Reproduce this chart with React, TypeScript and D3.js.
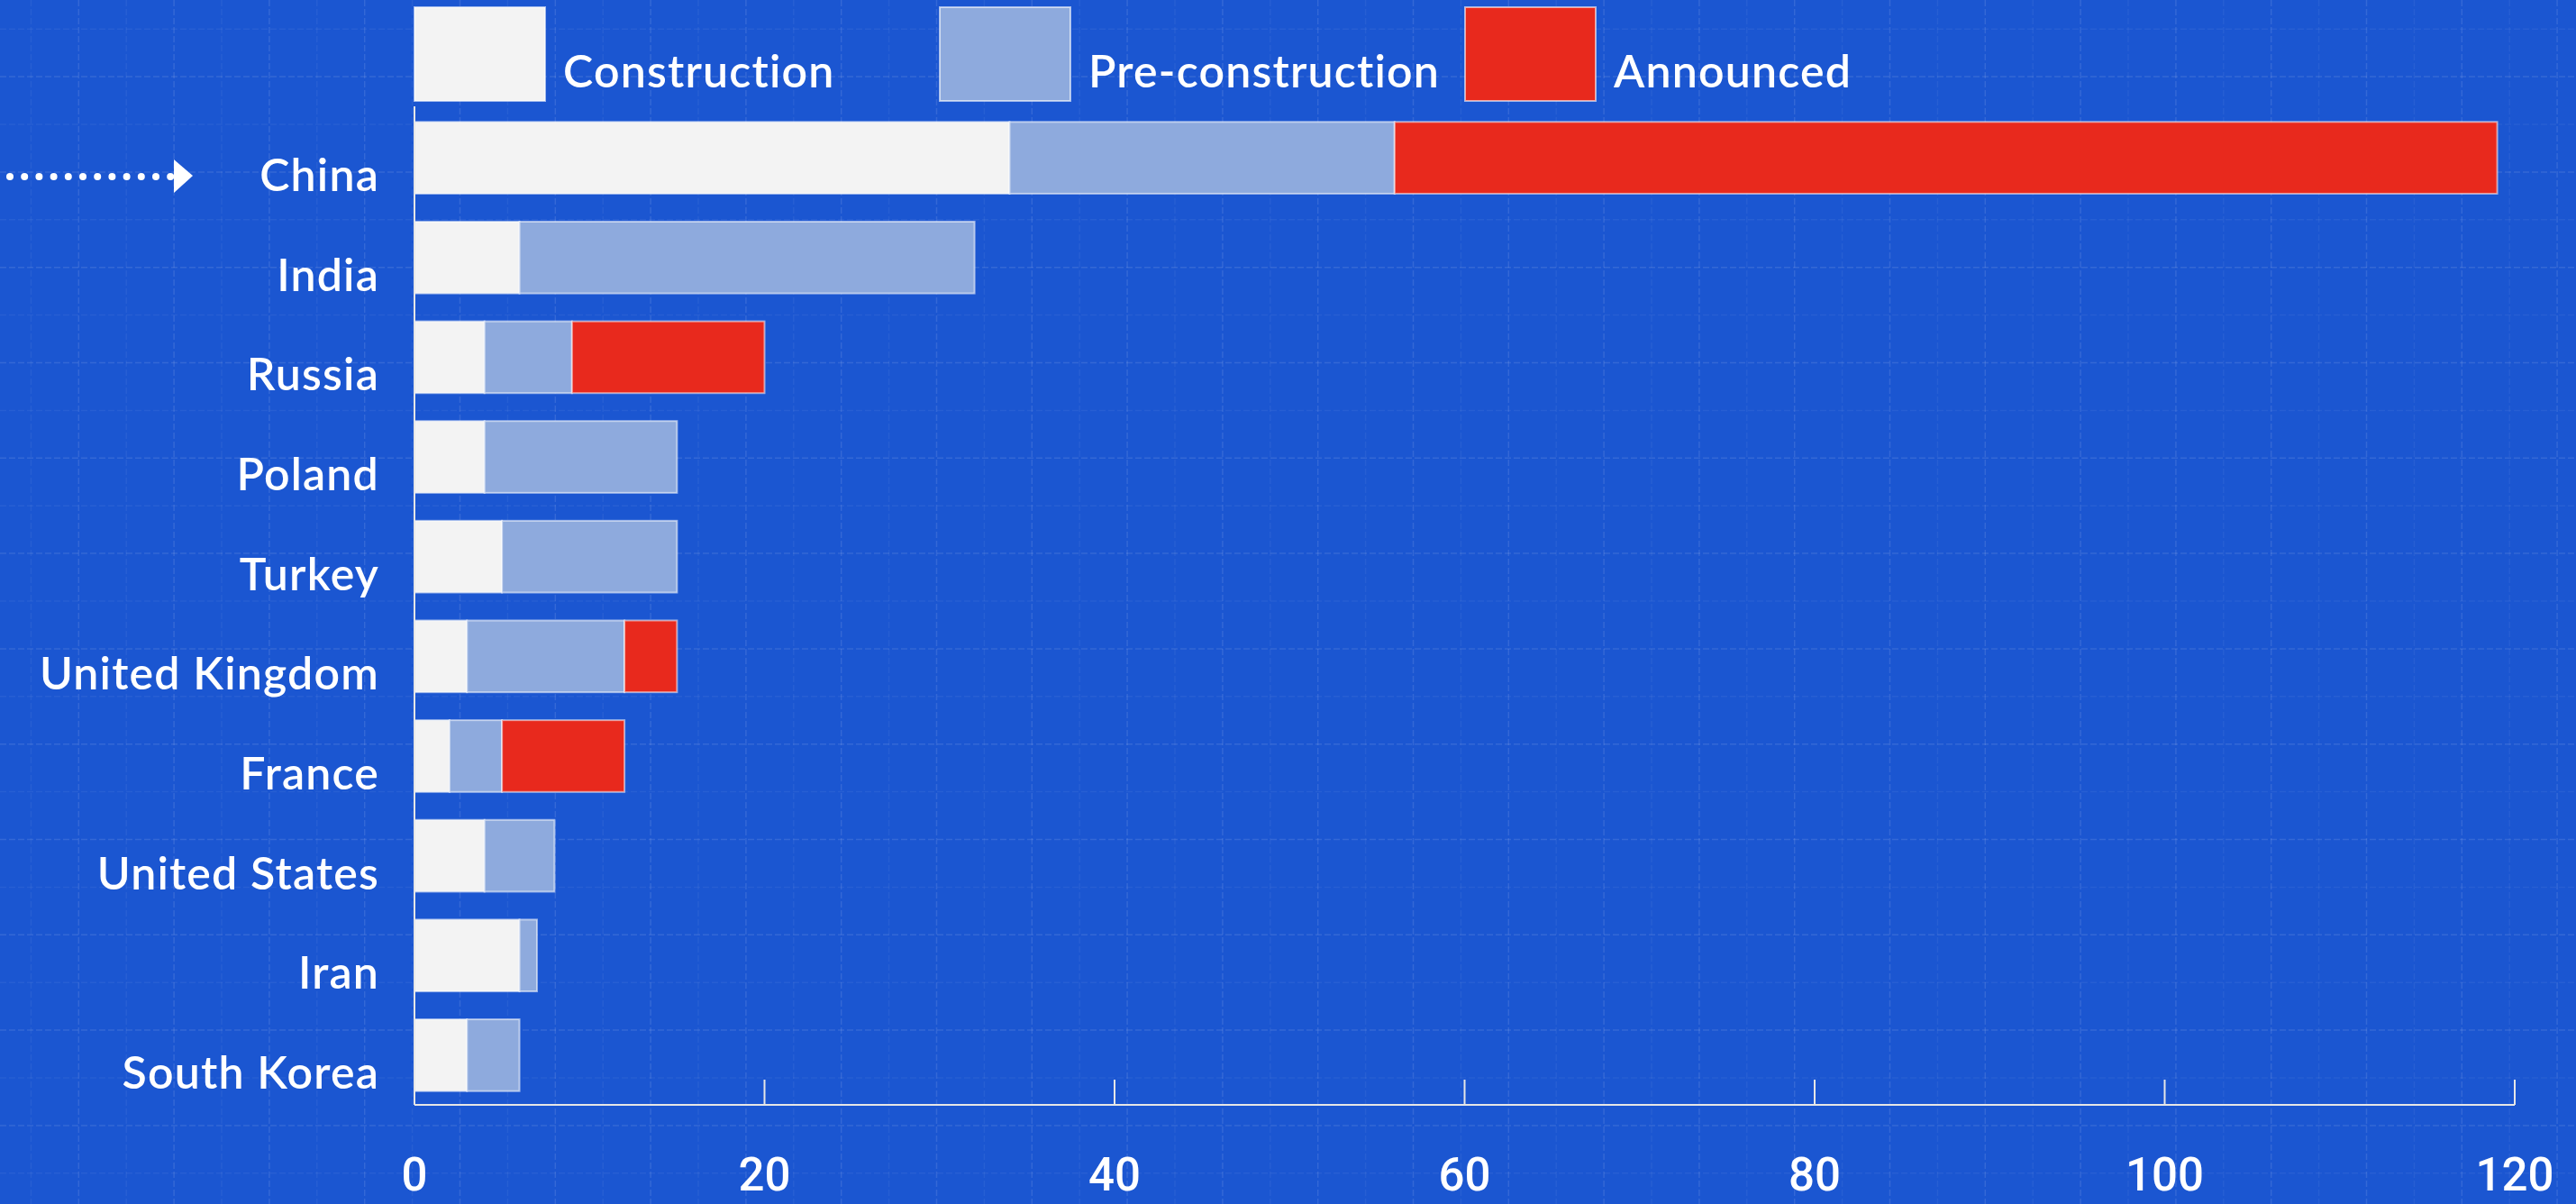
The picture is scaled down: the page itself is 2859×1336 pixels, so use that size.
import React from "react";
import * as d3 from "d3";

const countries = ["China", "India", "Russia", "Poland", "Turkey", "United Kingdom", "France", "United States", "Iran", "South Korea"];
const construction = [34, 6, 4, 4, 5, 3, 2, 4, 6, 3];
const preConstruction = [22, 26, 5, 11, 10, 9, 3, 4, 1, 3];
const announced = [63, 0, 11, 0, 0, 3, 7, 0, 0, 0];
const seriesKeys = ["Construction", "Pre-construction", "Announced"];
const xTicks = [0, 20, 40, 60, 80, 100, 120];

const W = 2859;
const H = 1336;
const BG = "#1b56d1";
const COLORS: Record<string, string> = {
  "Construction": "#f3f3f3",
  "Pre-construction": "#8eaadd",
  "Announced": "#e8291d",
};

const FONT = "Lato, 'Open Sans', sans-serif";
const TICK_FONT = "Roboto, 'Noto Sans', sans-serif";

export default function App() {
  const x = d3.scaleLinear().domain([0, 120]).range([460, 2791]);
  const y = d3.scaleBand<string>().domain(countries).range([122, 1224]).paddingInner(0.28).paddingOuter(0.12);

  const table = countries.map((c, i) => ({
    country: c,
    "Construction": construction[i],
    "Pre-construction": preConstruction[i],
    "Announced": announced[i],
  }));
  const stacked = d3.stack<any>().keys(seriesKeys)(table);

  const step = 52.9;
  const vLines = d3.range(34.4, W, step);
  const hLines = d3.range(32.2, H, step);

  const axisY = 1226;
  const dots = d3.range(11, 192, 16.2);

  return (
    <div style={{ position: "fixed", left: 0, top: 0, width: W, height: H }}>
      <svg width={W} height={H} style={{ display: "block" }}>
        <rect x={0} y={0} width={W} height={H} fill={BG} />
        {/* background grid */}
        <g>
          {vLines.map((vx, i) => (
            <line key={"v" + i} x1={vx} x2={vx} y1={0} y2={H}
              stroke="#ffffff" strokeOpacity={i % 2 === 1 ? 0.11 : 0.055}
              strokeWidth={1.5} strokeDasharray="7 3" />
          ))}
          {hLines.map((hy, i) => (
            <line key={"h" + i} x1={0} x2={W} y1={hy} y2={hy}
              stroke="#ffffff" strokeOpacity={i % 2 === 1 ? 0.11 : 0.055}
              strokeWidth={1.5} strokeDasharray="7 3" />
          ))}
        </g>

        {/* legend */}
        <g>
          {seriesKeys.map((k, i) => {
            const lx = 460 + i * 583;
            return (
              <g key={k}>
                <rect x={lx} y={8} width={145} height={104} fill={COLORS[k]}
                  stroke="#ffffff" strokeOpacity={0.6} strokeWidth={2} />
                <text x={lx + 165} y={97} fill="#ffffff" fontFamily={FONT}
                  fontWeight={600} fontSize={50} letterSpacing={1.2}>{k}</text>
              </g>
            );
          })}
        </g>

        {/* bars */}
        <g>
          {stacked.map((s) => (
            <g key={s.key}>
              {s.map((d, i) => {
                const w = x(d[1]) - x(d[0]);
                if (w <= 0) return null;
                return (
                  <rect key={i} x={x(d[0])} y={y(countries[i])!}
                    width={w} height={y.bandwidth()}
                    fill={COLORS[s.key]} stroke="#ffffff" strokeOpacity={0.55}
                    strokeWidth={2} />
                );
              })}
            </g>
          ))}
        </g>

        {/* y axis line */}
        <line x1={460} x2={460} y1={118} y2={axisY} stroke="#e6e6e6" strokeWidth={2} />

        {/* y labels */}
        <g>
          {countries.map((c) => (
            <text key={c} x={421} y={y(c)! + y.bandwidth() / 2 + 37}
              textAnchor="end" fill="#ffffff" fontFamily={FONT}
              fontWeight={600} fontSize={50} letterSpacing={1.2}>{c}</text>
          ))}
        </g>

        {/* x axis */}
        <line x1={460} x2={x(120)} y1={axisY} y2={axisY} stroke="#e6e6e6" strokeWidth={2} />
        <g>
          {xTicks.map((t) => (
            <g key={t}>
              {t > 0 && (
                <line x1={x(t)} x2={x(t)} y1={axisY} y2={axisY - 28} stroke="#e6e6e6" strokeWidth={2} />
              )}
              <text x={x(t)} y={1321} textAnchor="middle" fill="#ffffff"
                fontFamily={TICK_FONT} fontWeight={500} fontSize={51}>{t}</text>
            </g>
          ))}
        </g>

        {/* arrow pointing at China */}
        <g>
          {dots.map((dx, i) => (
            <circle key={i} cx={dx} cy={196} r={4} fill="#ffffff" />
          ))}
          <path d="M193,177 L214,195 L193,214 Z" fill="#ffffff" />
        </g>
      </svg>
    </div>
  );
}
